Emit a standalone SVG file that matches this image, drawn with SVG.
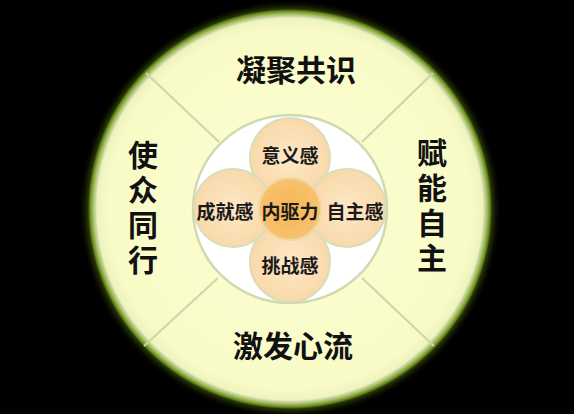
<svg xmlns="http://www.w3.org/2000/svg" width="574" height="414" viewBox="0 0 574 414">
<defs>
<radialGradient id="outerG" cx="0.5" cy="0.5" r="0.5">
<stop offset="0" stop-color="#fdfed4"/>
<stop offset="0.9" stop-color="#f9fbc6"/>
<stop offset="0.955" stop-color="#eef3bc"/>
<stop offset="0.965" stop-color="#c8d0a8"/>
<stop offset="0.975" stop-color="#a6c25a"/>
<stop offset="0.99" stop-color="#6a8a22"/>
<stop offset="1" stop-color="#2a3a08"/>
</radialGradient>
<radialGradient id="satG" cx="0.5" cy="0.5" r="0.5">
<stop offset="0" stop-color="#fde8c6"/>
<stop offset="1" stop-color="#f9d9aa"/>
</radialGradient>
<radialGradient id="coreG" cx="0.5" cy="0.5" r="0.5">
<stop offset="0" stop-color="#f8b552"/>
<stop offset="1" stop-color="#f6c270"/>
</radialGradient>
<filter id="glow" x="-10%" y="-10%" width="120%" height="120%">
<feGaussianBlur stdDeviation="3"/>
</filter>
</defs>
<style>
.big{font-family:"Noto Sans CJK SC","Noto Sans CJK JP",sans-serif;font-weight:700;font-size:30px;fill:#111;text-anchor:middle;dominant-baseline:central}
.vert{writing-mode:vertical-rl;letter-spacing:5px}
.small{font-family:"Noto Sans CJK SC","Noto Sans CJK JP",sans-serif;font-weight:700;font-size:19px;fill:#1a1a1a;text-anchor:middle;dominant-baseline:central}
.div{stroke:#cbd6aa;stroke-width:2;fill:none}
.sat{fill:url(#satG);stroke:#d9ddb9;stroke-width:2}
</style>
<rect width="574" height="414" fill="#000"/>
<g id="outer">
<ellipse cx="290" cy="209" rx="204" ry="202" fill="#3f5a10" filter="url(#glow)" opacity="0.8"/>
<ellipse cx="290" cy="209" rx="202" ry="200" fill="url(#outerG)"/>
</g>
<g id="connectors">
<line class="div" x1="146" y1="73" x2="219" y2="142"/>
<line class="div" x1="433" y1="73" x2="362" y2="142"/>
<line class="div" x1="144" y1="346" x2="218" y2="278"/>
<line class="div" x1="434" y1="346" x2="362" y2="278"/>
</g>
<g id="inner-ring">
<ellipse cx="290" cy="209" rx="97" ry="94" fill="#ffffff" stroke="#cfdab0" stroke-width="2.5"/>
</g>
<g id="node-top">
<circle class="sat" cx="290" cy="158" r="40"/>
<text class="small" x="290" y="154">意义感</text>
</g>
<g id="node-bottom">
<circle class="sat" cx="290" cy="262" r="40"/>
<text class="small" x="290" y="264">挑战感</text>
</g>
<g id="node-left">
<circle class="sat" cx="233" cy="208" r="39"/>
<text class="small" x="225" y="210">成就感</text>
</g>
<g id="node-right">
<circle class="sat" cx="347" cy="208" r="39"/>
<text class="small" x="355" y="210">自主感</text>
</g>
<g id="node-core">
<circle cx="290" cy="209" r="31" fill="url(#coreG)" stroke="#f3d6a0" stroke-width="2"/>
<text class="small" x="290" y="210">内驱力</text>
</g>
<g id="node-n">
<text class="big" x="296" y="68">凝聚共识</text>
</g>
<g id="node-s">
<text class="big" x="293" y="344">激发心流</text>
</g>
<g id="node-w">
<text class="big vert" x="143" y="210">使众同行</text>
</g>
<g id="node-e">
<text class="big vert" x="432" y="208">赋能自主</text>
</g>
</svg>
